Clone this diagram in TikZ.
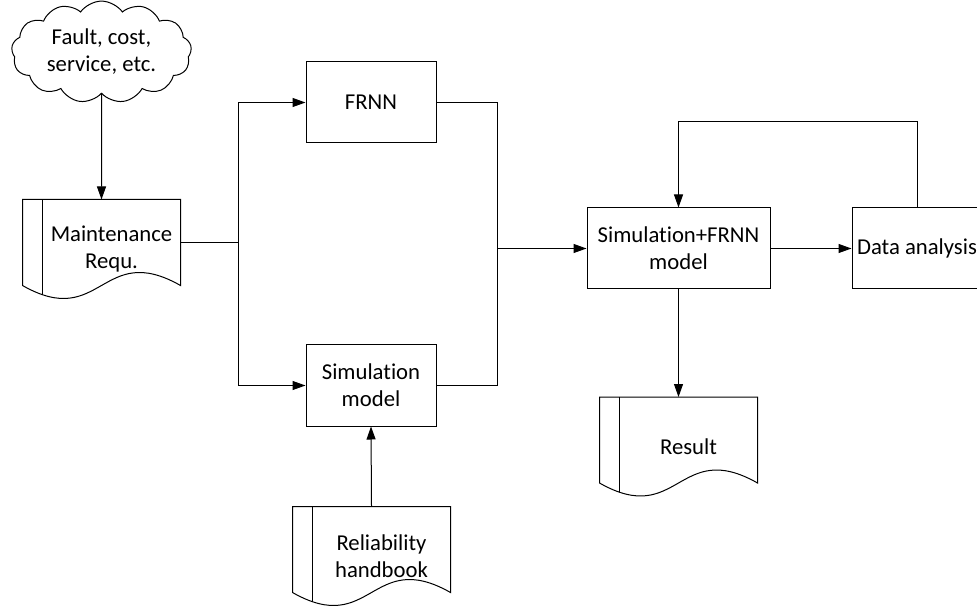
\documentclass[tikz,border=0pt]{standalone}
\usepackage{fontspec}
\setmainfont{Carlito}[Ligatures=NoCommon]
\usetikzlibrary{shapes,arrows.meta,calc}

% outline of a document shape round a named node
\newcommand{\docoutline}[1]{%
	\draw (#1.north west) -- (#1.south west)
		.. controls ($(#1.south)+(0,45)$) and ($(#1.south)+(0,-45)$) .. (#1.south east)
		-- (#1.north east) -- cycle;
	\draw ($(#1.north west)+(20,0)$) -- ($(#1.south west)+(20,9.3)$);
}

\begin{document}
\begin{tikzpicture}[x=0.5pt,y=-0.5pt,line width=0.5pt,
		>={Triangle[length=6.5pt,width=4.5pt]},
		font=\fontsize{11.35}{13.5}\selectfont,
		block/.style={draw,minimum width=65pt,minimum height=40.5pt,inner sep=2pt,align=center},
		docu/.style={minimum width=78.5pt,minimum height=42.5pt,inner sep=0pt},
		doctext/.style={align=center,xshift=5pt,yshift=-3.5pt},
		bubble/.style={draw,cloud,cloud puffs=13,cloud puff arc=110,aspect=1.9,minimum width=90pt,minimum height=47.5pt,inner sep=1pt,align=center}]
	\useasboundingbox (0,0) rectangle (977,608);

	\node[bubble] (cause) at (101.5,52) {Fault, cost,\\service, etc.};
	\node[docu,label={[doctext]center:Maintenance\\Requ.}] (req) at (101.5,242.5) {};
	\node[block] (frnn) at (371,102.5) {FRNN};
	\node[block] (sim) at (371,385.5) {Simulation\\model};
	\node[docu,label={[doctext]center:Reliability\\handbook}] (hb) at (371.5,549.5) {};
	\node[block,minimum width=91.5pt] (comb) at (678.5,248.5) {Simulation+FRNN\\model};
	\node[block] (ana) at (917,248.5) {Data analysis};
	\node[docu,label={[doctext]center:Result}] (res) at (678.5,440) {};

	\docoutline{req}
	\docoutline{hb}
	\docoutline{res}

	\coordinate (split) at (238,242.5);
	\coordinate (merge) at (497,248.5);

	\draw[->] (cause.south) -- (req.north);
	\draw (req.east) -- (split);
	\draw[->] (split) |- (frnn.west);
	\draw[->] (split) |- (sim.west);
	\draw (frnn.east) -| (merge);
	\draw (sim.east) -| (merge);
	\draw[->] (merge) -- (comb.west);
	\draw[->] (hb.north) -- (sim.south);
	\draw[->] (comb.east) -- (ana.west);
	\draw[->] (comb.south) -- (res.north);
	\draw[->] (ana.north) -- ++(0,-86) -| (comb.north);
\end{tikzpicture}
\end{document}
